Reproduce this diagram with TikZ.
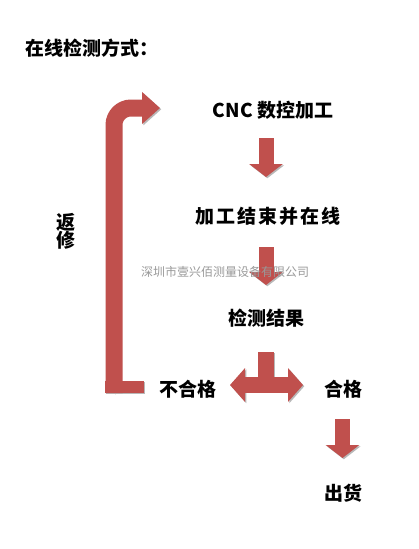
\documentclass[tikz,border=0pt]{standalone}
\usepackage{fontspec}
\setmainfont{Noto Sans CJK SC}
\usetikzlibrary{arrows.meta}
\definecolor{arred}{HTML}{C0504D}
\tikzset{
  txt/.style={font=\fontsize{19pt}{19pt}\selectfont\bfseries, inner sep=0pt},
  wmark/.style={font=\fontsize{12pt}{12pt}\selectfont, text=black!40, inner sep=0pt},
  shd/.style={preaction={draw=black!28, transform canvas={shift={(1.3pt,-1.3pt)}}}},
  fat/.style={line width=15pt, draw=arred, shd, -{Triangle[width=33pt,length=13pt]}},
  back/.style={line width=17pt, draw=arred, shd, rounded corners=17pt,
    -{Triangle[width=31pt,length=18pt]}},
  both/.style={line width=16pt, draw=arred, shd,
    {Triangle[width=33pt,length=15pt]}-{Triangle[width=33pt,length=15pt]}},
  blok/.style={fill=arred, preaction={fill=black!28, transform canvas={shift={(1.3pt,-1.3pt)}}}}
}
\begin{document}
\begin{tikzpicture}[x=1pt, y=-1pt]
\useasboundingbox[fill=white] (0,0) rectangle (419,549);
% texts
\node[txt, anchor=west] (title) at (25,48) {在线检测方式：};
\node[txt] (cnc) at (273,110) {CNC 数控加工};
\node[txt, font=\fontsize{19pt}{19pt}\selectfont\bfseries\addfontfeatures{LetterSpace=10}] (fin) at (268,216) {加工结束并在线};
\node[txt] (res) at (266,318) {检测结果};
\node[txt] (ng) at (188,389) {不合格};
\node[txt] (ok) at (343,389) {合格};
\node[txt] (ship) at (343,493) {出货};
\node[txt, align=center] (fx) at (66,231) {返\\[-1pt]修};
% arrow ends
\coordinate (a1s) at (266,138);
\coordinate (a1e) at (266,177);
\coordinate (a2s) at (266,247);
\coordinate (a2e) at (266,285);
\coordinate (a3s) at (342.5,419);
\coordinate (a3e) at (342.5,458);
\coordinate (bl) at (230,385);
\coordinate (br) at (303,385);
\coordinate (rb) at (114,393);
\coordinate (rt) at (160,108);
% arrows
\draw[fat] (a1s) -- (a1e);
\draw[fat] (a2s) -- (a2e);
\draw[fat] (a3s) -- (a3e);
\fill[blok] (258,352) rectangle (274,385);
\draw[both] (bl) -- (br);
\fill[blok] (105,381) rectangle (144,393);
\draw[back] (rb) |- (rt);
% watermark
\node[wmark] (wm) at (225,272) {深圳市壹兴佰测量设备有限公司};
\end{tikzpicture}
\end{document}
